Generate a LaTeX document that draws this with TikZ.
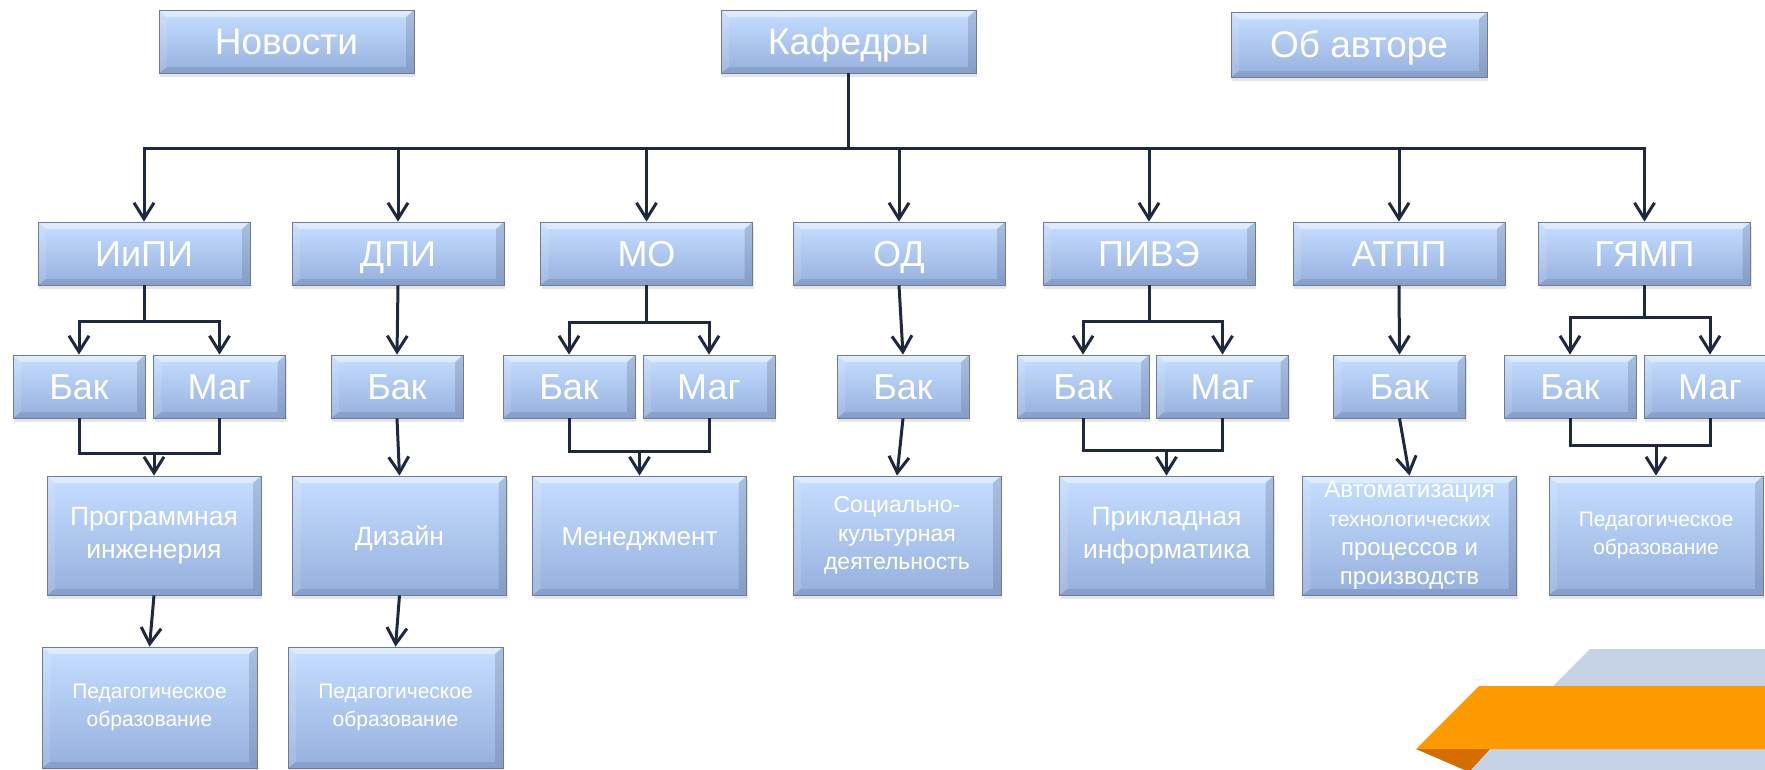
\documentclass[tikz,border=0pt]{standalone}
\usepackage{fontspec}
\setmainfont{Liberation Sans}
\usetikzlibrary{arrows.meta,shadows}
\definecolor{btop}{RGB}{198,222,255}
\definecolor{bbot}{RGB}{150,176,222}
\definecolor{bedge}{RGB}{84,100,132}
\definecolor{conncol}{RGB}{30,41,64}
\definecolor{decgrey}{RGB}{198,211,230}
\definecolor{decorange}{RGB}{255,153,0}
\definecolor{decdark}{RGB}{212,110,0}
\tikzset{
  btn/.style={rectangle, draw=bedge!85, line width=0.8pt, top color=btop, bottom color=bbot,
    text=white, inner sep=0pt, align=center,
    drop shadow={shadow xshift=1pt, shadow yshift=-4pt, opacity=.2},
    path picture={
      \coordinate (pa) at (path picture bounding box.north west);
      \coordinate (pb) at (path picture bounding box.north east);
      \coordinate (pc) at (path picture bounding box.south east);
      \coordinate (pd) at (path picture bounding box.south west);
      \fill[white,opacity=.45] (pa) -- (pb) -- ([shift={(-8pt,-7pt)}]pb) -- ([shift={(8pt,-7pt)}]pa) -- cycle;
      \fill[white,opacity=.12] (pa) -- ([shift={(8pt,-7pt)}]pa) -- ([shift={(8pt,6pt)}]pd) -- (pd) -- cycle;
      \fill[bedge,opacity=.25] (pb) -- (pc) -- ([shift={(-8pt,6pt)}]pc) -- ([shift={(-8pt,-7pt)}]pb) -- cycle;
      \fill[bedge,opacity=.22] (pd) -- (pc) -- ([shift={(-8pt,6pt)}]pc) -- ([shift={(8pt,6pt)}]pd) -- cycle;
    }},
  topbtn/.style={btn, font=\fontsize{37}{44}\selectfont, text height=26.5pt, text depth=0pt},
  rowtwo/.style={btn, font=\fontsize{36}{44}\selectfont, text height=25.8pt, text depth=0pt,
    minimum width=212pt, minimum height=63pt},
  rowthree/.style={btn, font=\fontsize{36}{44}\selectfont, text height=25.8pt, text depth=0pt,
    minimum width=132pt, minimum height=63pt},
  rowfour/.style={btn, minimum width=214pt, minimum height=119pt},
  oneline/.style={text height=19pt, text depth=0pt},
  fprog/.style={font=\fontsize{26.5}{32.5}\selectfont},
  fped/.style={font=\fontsize{21}{28}\selectfont},
  fsoc/.style={font=\fontsize{23}{28.5}\selectfont},
  conn/.style={draw=conncol, line width=3pt},
  arr/.style={-{Straight Barb[length=16pt,width=20pt]}}
}
\begin{document}
\begin{tikzpicture}[x=1pt,y=-1pt]
\useasboundingbox (0,0) rectangle (1765,769);
\clip (0,0) rectangle (1765,769);
\fill[white] (0,0) rectangle (1765,769);

% decoration bottom right
\fill[decgrey] (1590,649) -- (1770,649) -- (1770,775) -- (1464,775) -- cycle;
\fill[decorange] (1479,686) -- (1770,686) -- (1770,749) -- (1416,749) -- cycle;
\fill[decdark] (1416,749) -- (1490,749) -- (1469,772) -- cycle;

% top row
\node[topbtn, minimum width=255pt, minimum height=63pt] (nov) at (286.5,41.5) {Новости};
\node[topbtn, minimum width=255pt, minimum height=63pt] (kaf) at (848.5,41.5) {Кафедры};
\node[topbtn, minimum width=256pt, minimum height=65pt] (avt) at (1359,44.5) {Об авторе};

% departments
\node[rowtwo] (iipi)  at (144,253.5)   {ИиПИ};
\node[rowtwo] (dpi)   at (398,253.5)   {ДПИ};
\node[rowtwo] (mo)    at (646.5,253.5) {МО};
\node[rowtwo] (od)    at (899,253.5)   {ОД};
\node[rowtwo] (pive)  at (1149,253.5)  {ПИВЭ};
\node[rowtwo] (atpp)  at (1399,253.5)  {АТПП};
\node[rowtwo] (gyamp) at (1644.5,253.5){ГЯМП};

% levels
\node[rowthree] (bak1) at (79,386.5)    {Бак};
\node[rowthree] (mag1) at (219.5,386.5) {Маг};
\node[rowthree] (bak2) at (397,386.5)   {Бак};
\node[rowthree] (bak3) at (569,386.5)   {Бак};
\node[rowthree] (mag3) at (709,386.5)   {Маг};
\node[rowthree] (bak4) at (903,386.5)   {Бак};
\node[rowthree] (bak5) at (1083,386.5)  {Бак};
\node[rowthree] (mag5) at (1222.5,386.5){Маг};
\node[rowthree] (bak6) at (1399.5,386.5){Бак};
\node[rowthree] (bak7) at (1570,386.5)  {Бак};
\node[rowthree] (mag7) at (1710,386.5)  {Маг};

% programmes
\node[rowfour, fprog] (prog) at (154,535.5)   {Программная\\инженерия};
\node[rowfour, fprog, oneline] (diz)  at (399.5,535.5) {Дизайн};
\node[rowfour, font=\fontsize{26}{32}\selectfont, oneline] (men)  at (639.5,535.5) {Менеджмент};
\node[rowfour, fsoc, minimum width=208pt] (soc)  at (897,535.5) {Социально-\\культурная\\деятельность};
\node[rowfour, fprog] (prik) at (1166.5,535.5) {Прикладная\\информатика};
\node[rowfour, font=\fontsize{24}{29}\selectfont] (avtm) at (1409.5,535.5) {Автоматизация\\{\fontsize{21}{29}\selectfont технологических}\\процессов и\\производств};
\node[rowfour, fped] (ped7) at (1656,535.5) {Педагогическое\\образование};
\node[rowfour, fped, minimum width=215pt, minimum height=121pt] (ped1) at (149.5,707.5) {Педагогическое\\образование};
\node[rowfour, fped, minimum width=215pt, minimum height=121pt] (ped2) at (395.5,707.5) {Педагогическое\\образование};

% main tree
\coordinate (hub) at (kaf.south |- 0,148);
\draw[conn] (kaf.south) -- (hub);
\foreach \n in {iipi,dpi,mo,od,pive,atpp,gyamp}
  \draw[conn,arr] (hub) -| (\n.north);

% splits
\coordinate (s1) at (iipi.south |- 0,321);
\draw[conn] (iipi.south) -- (s1);
\draw[conn,arr] (s1) -| (bak1.north);
\draw[conn,arr] (s1) -| (mag1.north);
\coordinate (s3) at (mo.south |- 0,322);
\draw[conn] (mo.south) -- (s3);
\draw[conn,arr] (s3) -| (bak3.north);
\draw[conn,arr] (s3) -| (mag3.north);
\coordinate (s5) at (pive.south |- 0,321);
\draw[conn] (pive.south) -- (s5);
\draw[conn,arr] (s5) -| (bak5.north);
\draw[conn,arr] (s5) -| (mag5.north);
\coordinate (s7) at (gyamp.south |- 0,317);
\draw[conn] (gyamp.south) -- (s7);
\draw[conn,arr] (s7) -| (bak7.north);
\draw[conn,arr] (s7) -| (mag7.north);

% merges
\coordinate (m1) at (prog.north |- 0,453);
\draw[conn] (bak1.south) |- (m1) -| (mag1.south);
\draw[conn,arr] (m1) -- (prog.north);
\coordinate (m3) at (men.north |- 0,451);
\draw[conn] (bak3.south) |- (m3) -| (mag3.south);
\draw[conn,arr] (m3) -- (men.north);
\coordinate (m5) at (prik.north |- 0,450);
\draw[conn] (bak5.south) |- (m5) -| (mag5.south);
\draw[conn,arr] (m5) -- (prik.north);
\coordinate (m7) at (ped7.north |- 0,445);
\draw[conn] (bak7.south) |- (m7) -| (mag7.south);
\draw[conn,arr] (m7) -- (ped7.north);

% single chains
\draw[conn,arr] (dpi.south) -- (bak2.north);
\draw[conn,arr] (bak2.south) -- (diz.north);
\draw[conn,arr] (diz.south) -- (ped2.north);
\draw[conn,arr] (prog.south) -- (ped1.north);
\draw[conn,arr] (od.south) -- (bak4.north);
\draw[conn,arr] (bak4.south) -- (soc.north);
\draw[conn,arr] (atpp.south) -- (bak6.north);
\draw[conn,arr] (bak6.south) -- (avtm.north);
\end{tikzpicture}
\end{document}
